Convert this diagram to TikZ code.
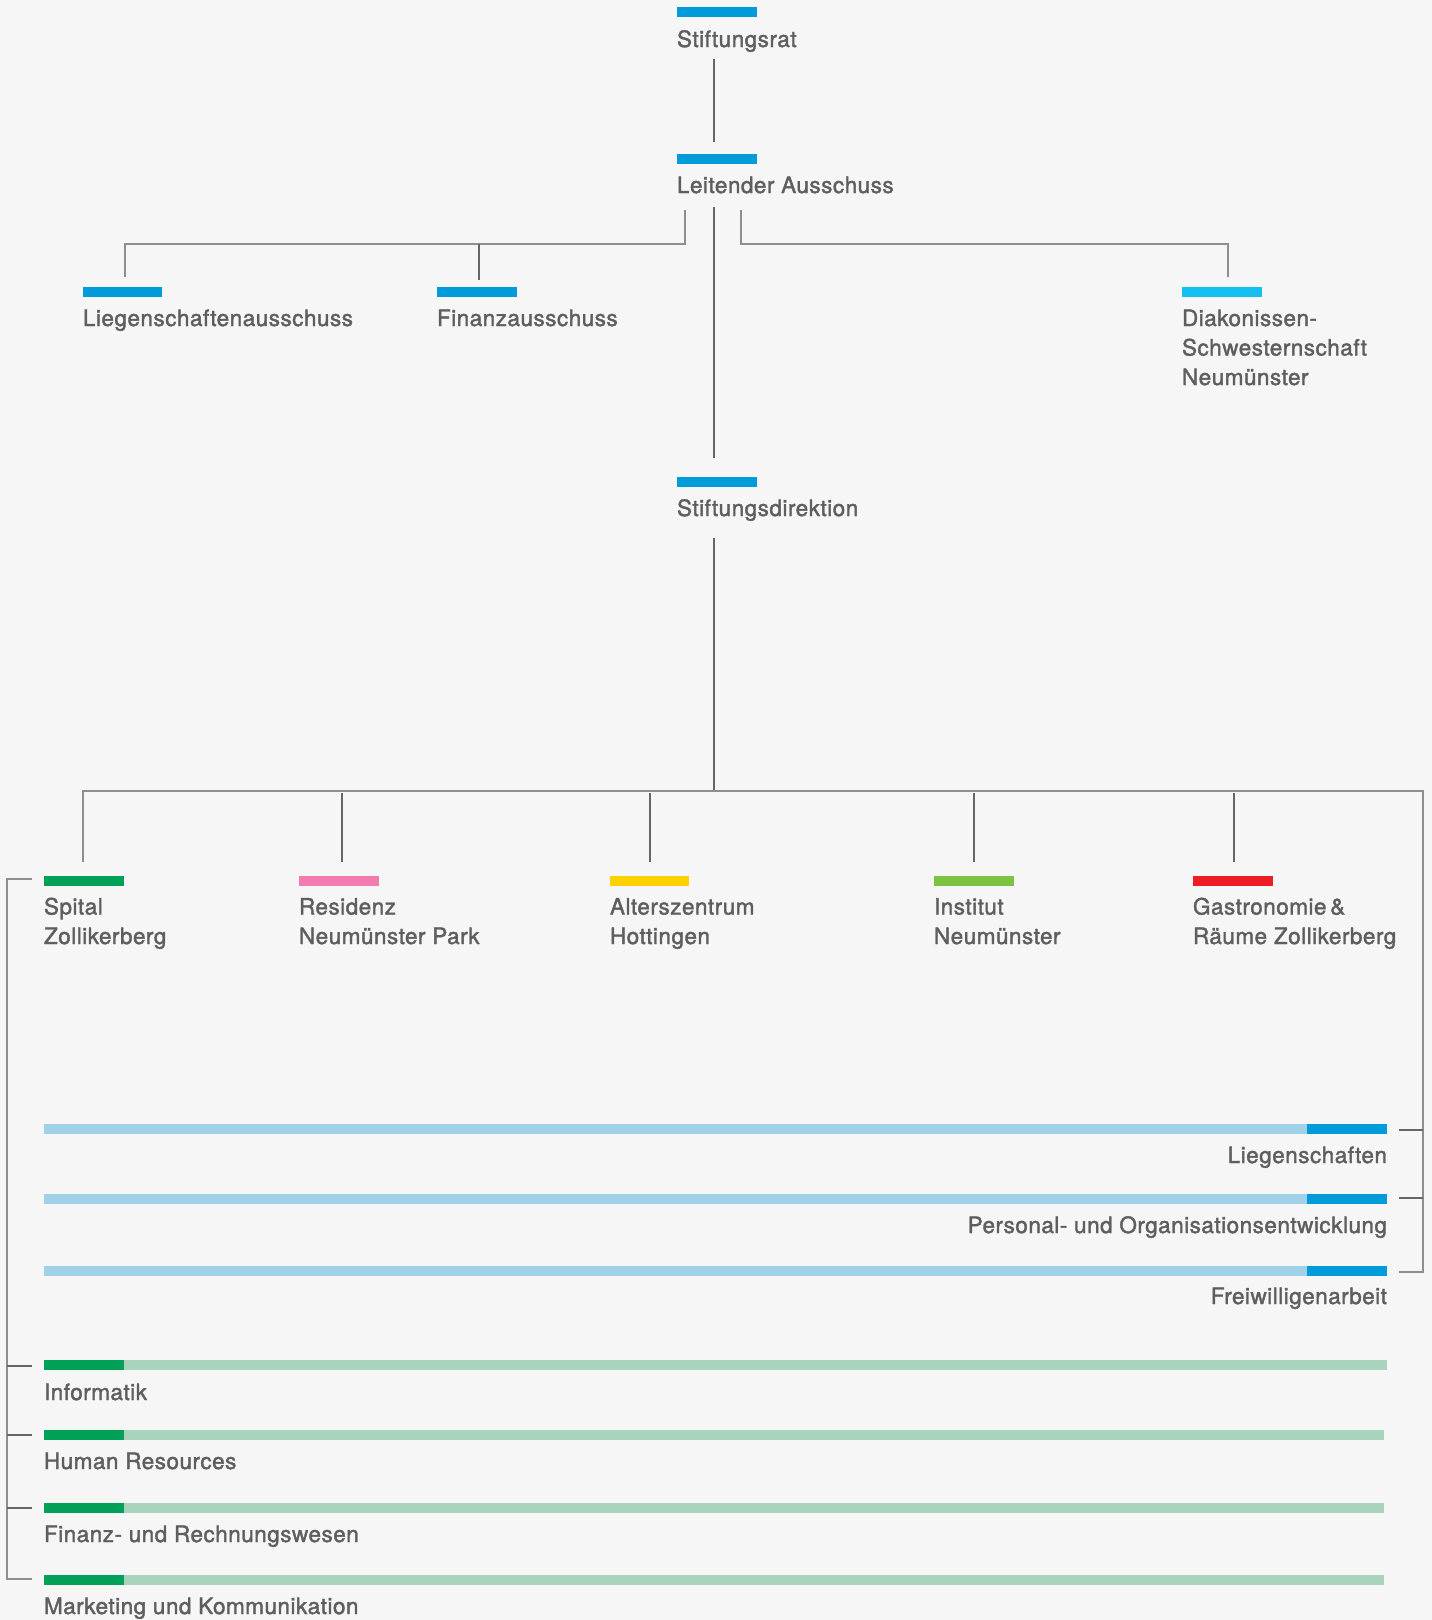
\documentclass[tikz,border=0pt]{standalone}
\usepackage{fontspec}
\setmainfont[LetterSpace=2.2,FakeBold=1.7]{TeX Gyre Heros}
\definecolor{bg}{HTML}{F6F6F6}
\definecolor{txt}{HTML}{5E5E5E}
\definecolor{ln}{HTML}{666666}
\definecolor{lnl}{HTML}{8E8E8E}
\definecolor{blu}{HTML}{009BD8}
\definecolor{cyn}{HTML}{12BFEF}
\definecolor{lblu}{HTML}{A1D1E9}
\definecolor{grn}{HTML}{00A057}
\definecolor{lgrn}{HTML}{A8D3BC}
\definecolor{pnk}{HTML}{F27BB0}
\definecolor{yel}{HTML}{FFD100}
\definecolor{lim}{HTML}{7DC243}
\definecolor{rd}{HTML}{EE1C25}
\tikzset{
  lbl/.style={anchor=base west, inner sep=0pt, outer sep=0pt, text=txt, align=left,
    font=\fontsize{22.5}{29.5}\selectfont},
  rlbl/.style={anchor=base east, inner sep=0pt, outer sep=0pt, text=txt,
    font=\fontsize{22.5}{29.5}\selectfont},
  main/.style={draw=ln, line width=2pt},
  thin/.style={draw=lnl, line width=1.5pt},
}
\newcommand{\mybar}[6]{% name, x1, x2, y1, y2, colour
  \path[fill=#6] (#2,#4) rectangle (#3,#5);
  \coordinate (#1) at (#2,#4);}
\begin{document}
\begin{tikzpicture}[x=1pt,y=-1pt]
\path[fill=bg] (0,0) rectangle (1432,1620);
\useasboundingbox (0,0) rectangle (1432,1620);

% top level bars
\mybar{sr}{677}{757}{7}{17}{blu}
\mybar{la}{677}{757}{154}{164}{blu}
\mybar{lieg}{83}{162}{287}{297}{blu}
\mybar{fin}{437}{517}{287}{297}{blu}
\mybar{diak}{1182}{1262}{287}{297}{cyn}
\mybar{sd}{677}{757}{477}{487}{blu}

% (base anchor of a multi-line label = baseline of its last line)
\node[lbl] (srT) at (677,47) {Stiftungsrat};
\node[lbl] (laT) at (677,193) {Leitender Ausschuss};
\node[lbl] (liegT) at (83,326) {Liegenschaftenausschuss};
\node[lbl] (finT) at (437,326) {Finanzausschuss};
\node[lbl] (diakT) at (1182,385) {Diakonissen-\\Schwesternschaft\\Neumünster};
\node[lbl] (sdT) at (677,516) {Stiftungsdirektion};

% units
\mybar{sp}{44}{124}{876}{886}{grn}
\mybar{res}{299}{379}{876}{886}{pnk}
\mybar{alt}{610}{689}{876}{886}{yel}
\mybar{inst}{934}{1014}{876}{886}{lim}
\mybar{gast}{1193}{1273}{876}{886}{rd}

\node[lbl] (spT) at (44,944) {Spital\\Zollikerberg};
\node[lbl] (resT) at (299,944) {Residenz\\Neumünster Park};
\node[lbl] (altT) at (610,944) {Alterszentrum\\Hottingen};
\node[lbl] (instT) at (934,944) {Institut\\Neumünster};
\node[lbl] (gastT) at (1193,944) {Gastronomie\,\&\\Räume Zollikerberg};

% blue service rows
\mybar{lg}{44}{1307}{1124}{1134}{lblu}
\path[fill=blu] (1307,1124) rectangle (1387,1134);
\mybar{po}{44}{1307}{1194}{1204}{lblu}
\path[fill=blu] (1307,1194) rectangle (1387,1204);
\mybar{fw}{44}{1307}{1266}{1276}{lblu}
\path[fill=blu] (1307,1266) rectangle (1387,1276);
\node[rlbl] (lgT) at (1387,1163) {Liegenschaften};
\node[rlbl] (poT) at (1387,1233) {Personal- und Organisationsentwicklung};
\node[rlbl] (fwT) at (1387,1304) {Freiwilligenarbeit};

% green service rows
\mybar{inf}{124}{1387}{1360}{1370}{lgrn}
\path[fill=grn] (44,1360) rectangle (124,1370);
\mybar{hr}{124}{1384}{1430}{1440}{lgrn}
\path[fill=grn] (44,1430) rectangle (124,1440);
\mybar{frw}{124}{1384}{1503}{1513}{lgrn}
\path[fill=grn] (44,1503) rectangle (124,1513);
\mybar{mk}{124}{1384}{1575}{1585}{lgrn}
\path[fill=grn] (44,1575) rectangle (124,1585);
\node[lbl] (infT) at (44,1400) {Informatik};
\node[lbl] (hrT) at (44,1469) {Human Resources};
\node[lbl] (frwT) at (44,1542) {Finanz- und Rechnungswesen};
\node[lbl] (mkT) at (44,1614) {Marketing und Kommunikation};

% connectors
\coordinate (a1) at (714,59); \coordinate (a2) at (714,142);
\draw[main] (a1) -- (a2);
\coordinate (c1) at (714,207); \coordinate (c2) at (714,458);
\draw[main] (c1) -- (c2);
\coordinate (l0) at (685,210); \coordinate (lj) at (685,244);
\coordinate (lL) at (125,244); \coordinate (lLe) at (125,277);
\draw[thin] (l0) -- (lj) -- (lL) -- (lLe);
\coordinate (f0) at (479,244); \coordinate (f1) at (479,280);
\draw[main] (f0) -- (f1);
\coordinate (r0) at (741,210); \coordinate (rj) at (741,244);
\coordinate (rR) at (1228,244); \coordinate (rRe) at (1228,277);
\draw[thin] (r0) -- (rj) -- (rR) -- (rRe);

\coordinate (d1) at (714,538); \coordinate (d2) at (714,791);
\draw[main] (d1) -- (d2);
\coordinate (h0) at (83,862); \coordinate (hL) at (83,791);
\coordinate (hR) at (1423,791); \coordinate (hB) at (1423,1272);
\coordinate (hBe) at (1399,1272);
\draw[thin] (h0) -- (hL) -- (hR) -- (hB) -- (hBe);
\foreach \x/\n in {342/t1,650/t2,974/t3,1234/t4}{
  \coordinate (\n a) at (\x,793); \coordinate (\n b) at (\x,862);
  \draw[main] (\n a) -- (\n b);
}
\foreach \y/\n in {1130/k1,1198/k2}{
  \coordinate (\n a) at (1399,\y); \coordinate (\n b) at (1423,\y);
  \draw[main] (\n a) -- (\n b);
}
\coordinate (b0) at (32,879); \coordinate (bT) at (7,879);
\coordinate (bB) at (7,1579); \coordinate (bBe) at (32,1579);
\draw[thin] (b0) -- (bT) -- (bB) -- (bBe);
\foreach \y/\n in {1366/m1,1435/m2,1508/m3}{
  \coordinate (\n a) at (7,\y); \coordinate (\n b) at (32,\y);
  \draw[main] (\n a) -- (\n b);
}
\end{tikzpicture}
\end{document}
